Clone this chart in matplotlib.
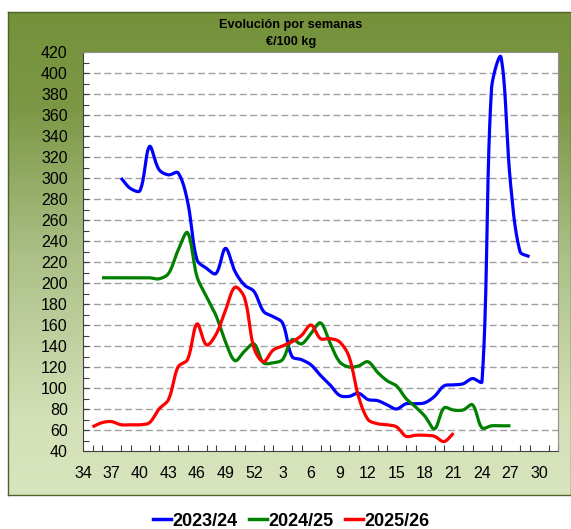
import numpy as np
import matplotlib.pyplot as plt
from matplotlib.lines import Line2D

plt.rcParams['font.family'] = ['Liberation Sans', 'DejaVu Sans']

# semanas de campaña: 34..52 y 1..32
week_labels = list(range(34, 53)) + list(range(1, 33))

# 2023/24 desde la semana 38
s2324_start = 38
s2324 = [300, 290, 288, 330, 308, 303, 305, 278, 222, 214, 209, 233, 211, 198, 192,
         173, 168, 162, 130, 127, 122, 112, 103, 93, 92, 95, 89, 88, 84, 80, 85, 85,
         86, 92, 102, 103, 104, 109, 106, 385, 415, 295, 230, 225]

# 2024/25 desde la semana 36
s2425_start = 36
s2425 = [205, 205, 205, 205, 205, 205, 204, 209, 231, 248, 206, 187, 169, 144, 126,
         135, 142, 124, 124, 127, 146, 142, 152, 162, 143, 125, 120, 121, 125, 115,
         107, 102, 90, 82, 73, 61, 81, 79, 79, 84, 62, 64, 64, 64]

# 2025/26 desde la semana 35
s2526_start = 35
s2526 = [63, 67, 68, 65, 65, 65, 67, 80, 89, 120, 127, 161, 141, 151, 174, 196, 186,
         138, 125, 136, 140, 144, 150, 160, 147, 147, 144, 130, 92, 70, 66, 65, 63,
         54, 55, 55, 54, 49, 57]

series_names = ['2023/24', '2024/25', '2025/26']
series_colors = ['#0000ff', '#008000', '#ff0000']

PX_X = 9.52   # px por semana
PX_Y = 1.05   # px por unidad


def smooth(x, y, n=30):
    # linea suavizada tipo excel: bezier con tangentes escaladas por longitud de cuerda
    x = np.asarray(x, float)
    y = np.asarray(y, float)
    px = np.concatenate([[x[0]], x, [x[-1]]])
    py = np.concatenate([[y[0]], y, [y[-1]]])
    P = np.stack([px, py], axis=1)
    S = np.array([PX_X, PX_Y])

    def d(a, b):
        return np.hypot(*((b - a) * S))

    t = np.linspace(0, 1, n)[:, None]
    out = []
    for i in range(1, len(P) - 2):
        p0, p1, p2, p3 = P[i - 1], P[i], P[i + 1], P[i + 2]
        d01, d12, d23 = d(p0, p1), d(p1, p2), d(p2, p3)
        f1 = d12 / (d01 + d12) / 3 if d01 + d12 > 0 else 0
        f2 = d12 / (d12 + d23) / 3 if d12 + d23 > 0 else 0
        c1 = p1 + (p2 - p0) * f1
        c2 = p2 - (p3 - p1) * f2
        b = (1 - t) ** 3 * p1 + 3 * (1 - t) ** 2 * t * c1 + 3 * (1 - t) * t ** 2 * c2 + t ** 3 * p2
        out.append(b)
    b = np.concatenate(out)
    return b[:, 0], b[:, 1]


fig = plt.figure(figsize=(5.71, 5.29), dpi=100, facecolor='white')

# fondo verde degradado
bg = fig.add_axes([8 / 571, 1 - 495 / 529, 1 - 8 / 571, (495 - 12) / 529])
stops = [0.0, 0.2, 0.5, 0.85, 1.0]
cols = np.array([[0x74, 0x91, 0x3a], [0x7c, 0x98, 0x46], [0xab, 0xbf, 0x86],
                 [0xd4, 0xe1, 0xb8], [0xd8, 0xe4, 0xbd]]) / 255
g = np.linspace(0, 1, 256)
grad = np.stack([np.interp(g, stops, cols[:, k]) for k in range(3)], axis=-1)[:, None, :]
bg.imshow(grad, aspect='auto', extent=[0, 1, 0, 1])
bg.set_xticks([])
bg.set_yticks([])
for sp in bg.spines.values():
    sp.set_color('#4f6228')
    sp.set_linewidth(1)

ax = fig.add_axes([83 / 571, 1 - 451 / 529, (558 - 83) / 571, (451 - 52) / 529])
ax.set_facecolor('white')

starts = [s2324_start, s2425_start, s2526_start]
for vals, st, col in zip([s2324, s2425, s2526], starts, series_colors):
    i0 = week_labels.index(st)
    xi = np.arange(i0, i0 + len(vals))
    sx, sy = smooth(xi, vals)
    ax.plot(sx, sy, color=col, lw=2.3, solid_capstyle='butt', zorder=3)

ax.set_xlim(0, 50)
ax.set_ylim(40, 420)
ax.set_yticks(np.arange(40, 421, 20))
ax.set_yticks(np.arange(40, 421, 10), minor=True)
ax.set_xticks(np.arange(0, 49, 3))
ax.set_xticklabels([str(week_labels[i]) for i in range(0, 49, 3)])
ax.set_xticks(np.arange(0, 51, 1), minor=True)
ax.tick_params(axis='both', which='both', direction='in', length=4, width=0.8,
               color='#404040', labelsize=11.5, labelcolor='black')
ax.tick_params(axis='x', which='major', length=0, pad=10.5)
ax.tick_params(axis='y', which='major', pad=11)

for v in range(60, 401, 20):
    ax.axhline(v, color='#a0a0a0', lw=1, ls=(0, (5, 2.5)), zorder=1)

ax.spines['left'].set_color('#404040')
ax.spines['bottom'].set_color('#404040')
ax.spines['top'].set_color('#909090')
ax.spines['right'].set_color('#909090')

fig.text(0.509, 1 - 25 / 529, 'Evolución por semanas', ha='center', va='center',
         fontsize=9.2, fontweight='bold')
fig.text(0.509, 1 - 42 / 529, '€/100 kg', ha='center', va='center',
         fontsize=9.2, fontweight='bold')

handles = [Line2D([], [], color=c, lw=2.5) for c in series_colors]
leg = fig.legend(handles, series_names, loc='center', bbox_to_anchor=(0.51, 1 - 521 / 529),
                 ncol=3, frameon=False, handlelength=1.0, handletextpad=0.1,
                 columnspacing=0.6, prop={'size': 13, 'weight': 'bold'})

plt.savefig('out.png', dpi=100)
